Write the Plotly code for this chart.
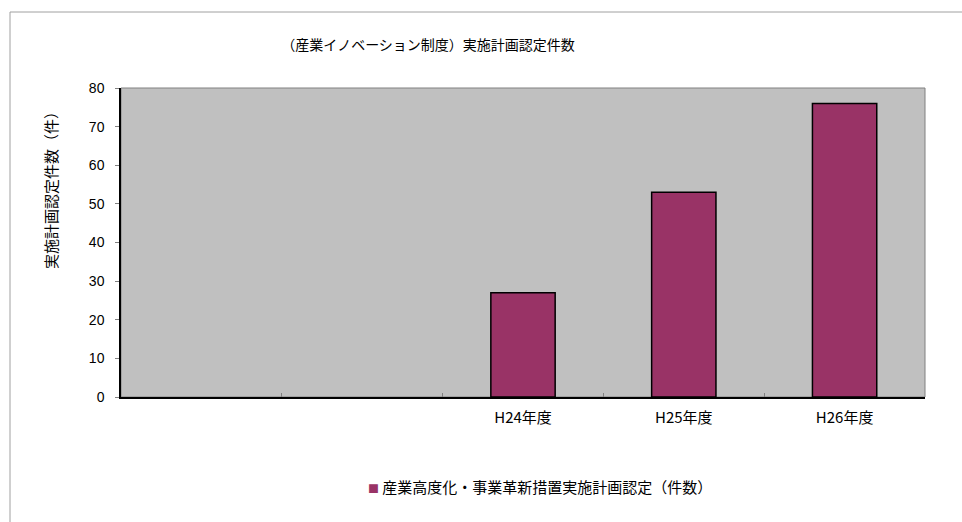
import plotly.graph_objects as go

# Fiscal-year categories (first two slots are empty)
categories = ["  ", "   ", "H24年度", "H25年度", "H26年度"]
approvals = [None, None, 27, 53, 76]
y_ticks = [0, 10, 20, 30, 40, 50, 60, 70, 80]

series_name = "産業高度化・事業革新措置実施計画認定（件数）"
chart_title = "（産業イノベーション制度）実施計画認定件数"
y_title = "実施計画認定件数（件）"

FONT = "Noto Sans CJK JP"
BAR_COLOR = "#993366"

fig = go.Figure()
fig.add_trace(
    go.Bar(
        x=categories,
        y=approvals,
        name=series_name,
        width=0.4,
        marker=dict(color=BAR_COLOR, line=dict(color="#000000", width=1.5)),
        showlegend=False,
    )
)

W, H = 962, 522
L, R, T, B = 121, 37, 88, 125
pw, ph = W - L - R, H - T - B

def px_x(p):
    return (p - L) / pw

def px_y(p):
    return (H - B - p) / ph

annotations = [
    # y-axis title
    dict(text=y_title, textangle=-90, xref="paper", yref="paper",
         x=px_x(50), y=px_y(187), xanchor="center", yanchor="middle",
         showarrow=False, font=dict(family=FONT, size=15, color="#000000")),
    # series key below the chart
    dict(text=(f"<span style='color:{BAR_COLOR};font-size:11px'>■</span>"
               f" {series_name}"),
         xref="paper", yref="paper", x=px_x(540), y=px_y(486),
         xanchor="center", yanchor="middle", showarrow=False,
         font=dict(family=FONT, size=15, color="#000000")),
]

fig.update_layout(
    width=W,
    height=H,
    margin=dict(l=L, r=R, t=T, b=B),
    paper_bgcolor="white",
    plot_bgcolor="#C0C0C0",
    font=dict(family=FONT, color="#000000", size=12),
    showlegend=False,
    title=dict(
        text=chart_title,
        font=dict(family=FONT, size=14, color="#000000"),
        x=428 / W,
        xanchor="center",
        y=1 - 45 / H,
        yanchor="middle",
    ),
    annotations=annotations,
    bargap=0.6,
    shapes=[
        # outer chart frame
        dict(type="rect", xref="paper", yref="paper",
             x0=px_x(10), x1=px_x(1000), y0=px_y(560), y1=px_y(12),
             line=dict(color="#A0A0A0", width=1), fillcolor="rgba(0,0,0,0)",
             layer="below"),
        # plot-area border
        dict(type="rect", xref="paper", yref="paper",
             x0=0, x1=1, y0=0, y1=1,
             line=dict(color="#808080", width=1), fillcolor="rgba(0,0,0,0)",
             layer="below"),
    ],
)

fig.update_xaxes(
    type="category",
    categoryorder="array",
    categoryarray=categories,
    showline=True,
    linecolor="#000000",
    linewidth=1.5,
    ticks="inside",
    tickson="boundaries",
    ticklen=4,
    tickcolor="#808080",
    showgrid=False,
    tickfont=dict(family=FONT, size=15, color="#000000"),
    ticklabelstandoff=6,
)

fig.update_yaxes(
    range=[0, 80],
    tickvals=y_ticks,
    showline=True,
    linecolor="#000000",
    linewidth=1.5,
    ticks="outside",
    ticklen=4,
    tickcolor="#808080",
    showgrid=False,
    zeroline=False,
    tickfont=dict(family="Liberation Sans", size=14, color="#000000"),
    ticklabelstandoff=8,
)

fig.write_html("out.html")
